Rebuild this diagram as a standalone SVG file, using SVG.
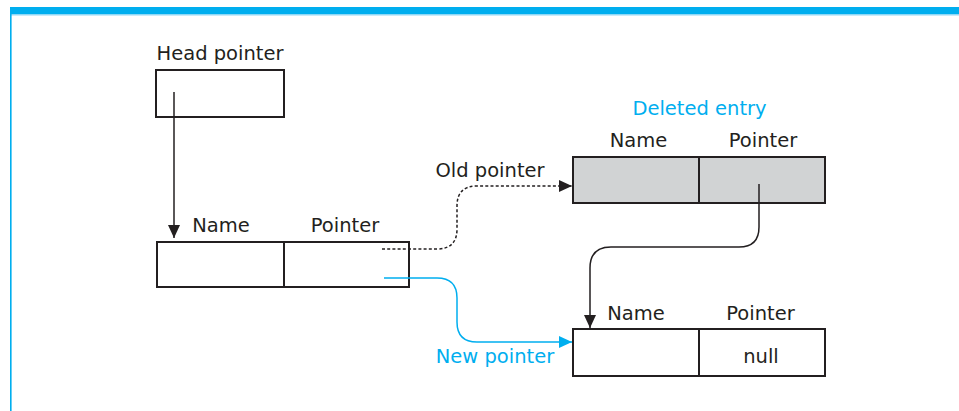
<svg xmlns="http://www.w3.org/2000/svg" width="959" height="411" viewBox="0 0 959 411">
<style>
  text { font-family: "DejaVu Sans", "Liberation Sans", sans-serif; font-size: 19.5px; fill: #231F20; text-anchor: middle; }
  text.cy { fill: #00AEEF; }
  .box { fill: #FFFFFF; stroke: #231F20; stroke-width: 2; }
  .gray { fill: #D1D3D4; }
  .div { stroke: #231F20; stroke-width: 2; }
  .conn { fill: none; stroke: #231F20; stroke-width: 1.5; }
  .dot { stroke-dasharray: 3 2.2; }
  .blue { stroke: #00AEEF; }
</style>
<defs>
  <marker id="ab" markerUnits="userSpaceOnUse" markerWidth="14" markerHeight="13" refX="13" refY="6" orient="auto">
    <path d="M0,0 L13,6 L0,12 z" fill="#231F20"/>
  </marker>
  <marker id="ac" markerUnits="userSpaceOnUse" markerWidth="14" markerHeight="13" refX="13" refY="6" orient="auto">
    <path d="M0,0 L13,6 L0,12 z" fill="#00AEEF"/>
  </marker>
</defs>
<rect x="0" y="0" width="959" height="411" fill="#FFFFFF"/>
<g id="frame">
  <rect x="10" y="7" width="949" height="7" fill="#00AEEF"/>
  <rect x="10" y="14" width="949" height="1.5" fill="#8FD8F6"/>
  <rect x="10" y="14" width="1.6" height="397" fill="#00AEEF"/>
</g>
<g id="head">
  <text x="220" y="60">Head pointer</text>
  <rect class="box" x="156" y="70" width="128" height="47"/>
</g>
<g id="entry1">
  <text x="221" y="232">Name</text>
  <text x="345" y="232">Pointer</text>
  <rect class="box" x="157" y="242" width="252" height="45"/>
  <line class="div" x1="284" y1="242" x2="284" y2="287"/>
</g>
<g id="deleted">
  <text class="cy" x="699.5" y="115">Deleted entry</text>
  <text x="638.5" y="147">Name</text>
  <text x="763" y="147">Pointer</text>
  <rect class="box gray" x="573" y="157" width="252" height="46"/>
  <line class="div" x1="699" y1="157" x2="699" y2="203"/>
</g>
<g id="entry3">
  <text x="636" y="320">Name</text>
  <text x="760.5" y="320">Pointer</text>
  <rect class="box" x="573" y="329" width="252" height="47"/>
  <line class="div" x1="699" y1="329" x2="699" y2="376"/>
  <text x="761" y="363">null</text>
</g>
<g id="connectors">
  <path class="conn" d="M174,92 V238" marker-end="url(#ab)"/>
  <path class="conn dot" d="M382,249 H437 Q457,249 457,229 V206 Q457,186 477,186 H572" marker-end="url(#ab)"/>
  <path class="conn blue" d="M384,278 H437 Q457,278 457,298 V322 Q457,342 477,342 H572" marker-end="url(#ac)"/>
  <path class="conn" d="M759,184 V227 Q759,247 739,247 H611 Q590,247 590,268 V328" marker-end="url(#ab)"/>
  <text x="490" y="177">Old pointer</text>
  <text class="cy" x="495" y="363">New pointer</text>
</g>
</svg>
